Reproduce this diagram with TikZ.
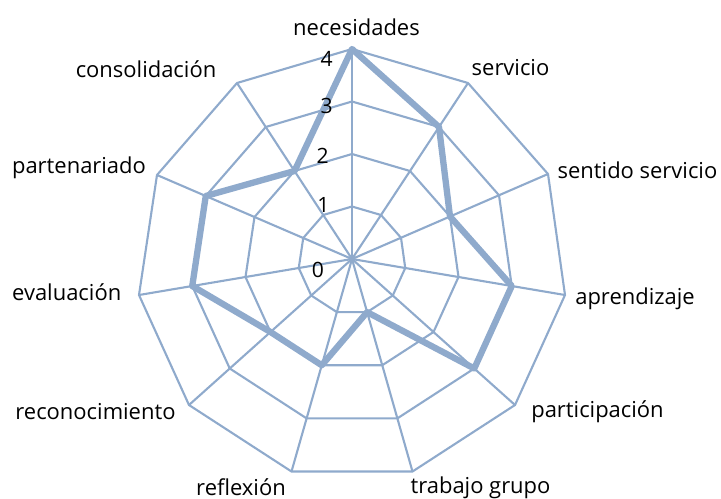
\documentclass[tikz,border=0pt]{standalone}
\usepackage{fontspec}
\setmainfont{Open Sans}
\usetikzlibrary{calc}
\definecolor{gridblue}{RGB}{143,170,204}
\tikzset{
    spoke/.style = {-,line width=1.2pt,gridblue},
    ring/.style = {-,line width=1.2pt,gridblue,line join=miter},
    series/.style = {-,line width=3.6pt,gridblue,line join=round},
    axislabel/.style = {anchor=base,inner sep=0pt,text=black,font=\fontsize{12.5}{14}\selectfont},
    ticklabel/.style = {anchor=base,inner sep=0pt,text=black,font=\fontsize{12}{14}\selectfont},
}

\begin{document}
\begin{tikzpicture}[x=0.02cm,y=-0.02cm]
\path[use as bounding box] (0,0) rectangle (721,498);
% centre and outer corners (value 4)
\coordinate (o) at (352,259);
\coordinate (nec) at (352,49);
\coordinate (ser) at (468,83);
\coordinate (sen) at (548,174);
\coordinate (apr) at (565,295);
\coordinate (par) at (515,405);
\coordinate (tra) at (412.5,471.5);
\coordinate (ref) at (291.5,471.5);
\coordinate (rec) at (189,405);
\coordinate (eva) at (139,295);
\coordinate (pte) at (157,175);
\coordinate (con) at (237,83);
%
\foreach \f in {0.25,0.5,0.75,1}
  \draw[ring] ($(o)!\f!(nec)$) -- ($(o)!\f!(ser)$) -- ($(o)!\f!(sen)$) -- ($(o)!\f!(apr)$)
    -- ($(o)!\f!(par)$) -- ($(o)!\f!(tra)$) -- ($(o)!\f!(ref)$) -- ($(o)!\f!(rec)$)
    -- ($(o)!\f!(eva)$) -- ($(o)!\f!(pte)$) -- ($(o)!\f!(con)$) -- cycle;
\foreach \v in {nec,ser,sen,apr,par,tra,ref,rec,eva,pte,con}
  \draw[spoke] (o) -- (\v);
%
\draw[series] (nec) -- ($(o)!0.75!(ser)$) -- ($(o)!0.5!(sen)$) -- ($(o)!0.75!(apr)$)
  -- ($(o)!0.75!(par)$) -- ($(o)!0.25!(tra)$) -- ($(o)!0.5!(ref)$) -- ($(o)!0.5!(rec)$)
  -- ($(o)!0.75!(eva)$) -- ($(o)!0.75!(pte)$) -- ($(o)!0.5!(con)$) -- cycle;
%
\node[ticklabel] at (326.7,66.5) (t4) {4};
\node[ticklabel] at (326.7,113) (t3) {3};
\node[ticklabel] at (322.7,163) (t2) {2};
\node[ticklabel] at (323.3,212) (t1) {1};
\node[ticklabel] at (318,277) (t0) {0};
%
\node[axislabel] at (356.5,35) (lnec) {necesidades};
\node[axislabel] at (510.5,75) (lser) {servicio};
\node[axislabel] at (637.5,178) (lsen) {sentido servicio};
\node[axislabel] at (635,304) (lapr) {aprendizaje};
\node[axislabel] at (597.5,417) (lpar) {participación};
\node[axislabel] at (480.5,493) (ltra) {trabajo grupo};
\node[axislabel] at (241,495) (lref) {reflexión};
\node[axislabel] at (95.5,419) (lrec) {reconocimiento};
\node[axislabel] at (66.7,300.7) (leva) {evaluación};
\node[axislabel] at (79,173) (lpte) {partenariado};
\node[axislabel] at (146,77) (lcon) {consolidación};
\end{tikzpicture}
\end{document}
